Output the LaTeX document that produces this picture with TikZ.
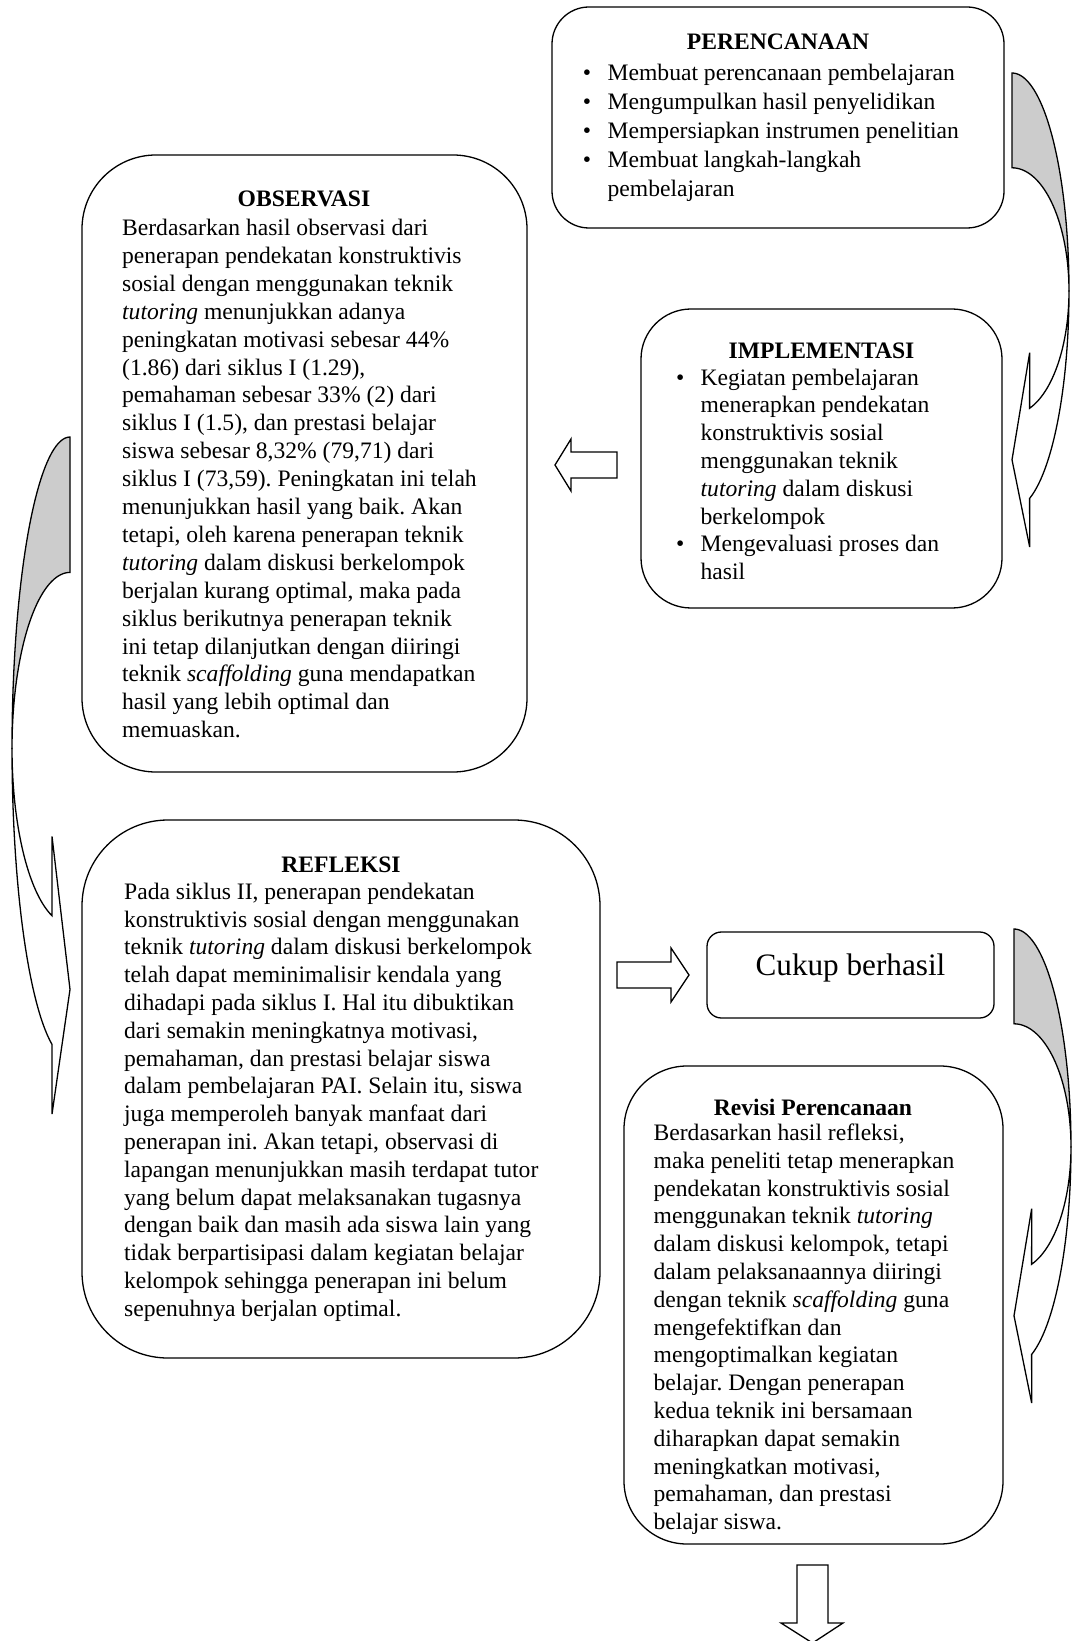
\documentclass[tikz,border=0pt]{standalone}
\usepackage{fontspec}
\setmainfont{Liberation Serif}
\usetikzlibrary{fit}
\frenchspacing

% bullet hung to the left of the item text
\newcommand\itm{\llap{\textbullet\hspace{8.2pt}}}

\tikzset{
  roundbox/.style={draw, inner sep=0pt, fill=white},
  bodytext/.style={inner sep=0pt, align=left, anchor=north west,
    font=\fontsize{11.8}{13.9}\selectfont},
  heading/.style={inner sep=0pt, font=\fontsize{11.8}{13.9}\selectfont\bfseries},
  blockarrow/.style={draw, fill=white, line join=miter},
  % curved band arrow: grey back part, white front part with a head
  pics/curvedband/.style={code={
    \filldraw[fill=gray!40] (0,0) -- (0,0.2)
      -- plot[domain=-90:0, samples=40] ({cos(\x)}, {0.46+0.26*sin(\x)})
      -- plot[domain=0:-90, samples=40] ({cos(\x)}, {0.46+0.46*sin(\x)}) -- cycle;
    \filldraw[fill=white] plot[domain=0:72, samples=30] ({cos(\x)}, {0.46+0.26*sin(\x)})
      -- (0.31,0.59) -- (0,0.816) -- (0.31,1) -- (0.309,0.8975)
      -- plot[domain=72:0, samples=30] ({cos(\x)}, {0.46+0.46*sin(\x)}) -- cycle;
  }},
}

\begin{document}
\begin{tikzpicture}[x=0.5pt, y=-0.5pt, line width=0.65pt]
\useasboundingbox (0,0) rectangle (1071,1641);
\fill[white] (0,0) rectangle (1071,1641);

% ---- boxes ----
\node[roundbox, rounded corners=18.5pt, fit={(552,7) (1004,228)}] (plan) {};
\node[roundbox, rounded corners=37pt, fit={(82,155) (527,772)}] (obs) {};
\node[roundbox, rounded corners=25pt, fit={(641,309) (1002,608)}] (impl) {};
\node[roundbox, rounded corners=43pt, fit={(82,820) (600,1358)}] (refl) {};
\node[roundbox, rounded corners=7.2pt, fit={(707,932) (994,1018)}] (ok) {};
\node[roundbox, rounded corners=31.5pt, fit={(624,1066) (1003,1544)}] (rev) {};

% ---- PERENCANAAN ----
\node[heading] (plan-title) at (778,42) {PERENCANAAN};
\node[bodytext, font=\fontsize{11.8}{14.6}\selectfont] (plan-list) at (607,63) {%
\itm Membuat perencanaan pembelajaran\\
\itm Mengumpulkan hasil penyelidikan\\
\itm Mempersiapkan instrumen penelitian\\
\itm Membuat langkah-langkah\\
pembelajaran};

% ---- OBSERVASI ----
\node[heading] (obs-title) at (304,199) {OBSERVASI};
\node[bodytext, font=\fontsize{11.8}{13.95}\selectfont] (obs-text) at (121.5,218.5) {%
Berdasarkan hasil observasi dari\\
penerapan pendekatan konstruktivis\\
sosial dengan menggunakan teknik\\
\textit{tutoring} menunjukkan adanya\\
peningkatan motivasi sebesar 44\%\\
(1.86) dari siklus I (1.29),\\
pemahaman sebesar 33\% (2) dari\\
siklus I (1.5), dan prestasi belajar\\
siswa sebesar 8,32\% (79,71) dari\\
siklus I (73,59). Peningkatan ini telah\\
menunjukkan hasil yang baik. Akan\\
tetapi, oleh karena penerapan teknik\\
\textit{tutoring} dalam diskusi berkelompok\\
berjalan kurang optimal, maka pada\\
siklus berikutnya penerapan teknik\\
ini tetap dilanjutkan dengan diiringi\\
teknik \textit{scaffolding} guna mendapatkan\\
hasil yang lebih optimal dan\\
memuaskan.};

% ---- IMPLEMENTASI ----
\node[heading] (impl-title) at (821.5,351) {IMPLEMENTASI};
\node[bodytext] (impl-list) at (700,368) {%
\itm Kegiatan pembelajaran\\
menerapkan pendekatan\\
konstruktivis sosial\\
menggunakan teknik\\
\textit{tutoring} dalam diskusi\\
berkelompok\\
\itm Mengevaluasi proses dan\\
hasil};

% ---- REFLEKSI ----
\node[heading] (refl-title) at (341,865) {REFLEKSI};
\node[bodytext] (refl-text) at (123.5,882.3) {%
Pada siklus II, penerapan pendekatan\\
konstruktivis sosial dengan menggunakan\\
teknik \textit{tutoring} dalam diskusi berkelompok\\
telah dapat meminimalisir kendala yang\\
dihadapi pada siklus I. Hal itu dibuktikan\\
dari semakin meningkatnya motivasi,\\
pemahaman, dan prestasi belajar siswa\\
dalam pembelajaran PAI. Selain itu, siswa\\
juga memperoleh banyak manfaat dari\\
penerapan ini. Akan tetapi, observasi di\\
lapangan menunjukkan masih terdapat tutor\\
yang belum dapat melaksanakan tugasnya\\
dengan baik dan masih ada siswa lain yang\\
tidak berpartisipasi dalam kegiatan belajar\\
kelompok sehingga penerapan ini belum\\
sepenuhnya berjalan optimal.};

% ---- Cukup berhasil ----
\node[inner sep=0pt, anchor=base, font=\fontsize{15.6}{18}\selectfont] (ok-text) at (850.5,975) {Cukup berhasil};

% ---- Revisi Perencanaan ----
\node[heading] (rev-title) at (813,1107) {Revisi Perencanaan};
\node[bodytext] (rev-text) at (653,1123.3) {%
Berdasarkan hasil refleksi,\\
maka peneliti tetap menerapkan\\
pendekatan konstruktivis sosial\\
menggunakan teknik \textit{tutoring}\\
dalam diskusi kelompok, tetapi\\
dalam pelaksanaannya diiringi\\
dengan teknik \textit{scaffolding} guna\\
mengefektifkan dan\\
mengoptimalkan kegiatan\\
belajar. Dengan penerapan\\
kedua teknik ini bersamaan\\
diharapkan dapat semakin\\
meningkatkan motivasi,\\
pemahaman, dan prestasi\\
belajar siswa.};

% ---- block arrows ----
\draw[blockarrow] (617,452) -- (571,452) -- (571,439) -- (555,465)
  -- (571,491) -- (571,478) -- (617,478) -- cycle;
\draw[blockarrow] (617,962) -- (671,962) -- (671,948) -- (689,975)
  -- (671,1002) -- (671,988) -- (617,988) -- cycle;
\draw[blockarrow] (797,1565) -- (828,1565) -- (828,1623) -- (843,1623)
  -- (812.5,1643) -- (781,1623) -- (797,1623) -- cycle;

% ---- curved arrows ----
\pic[xscale=57, yscale=474] at (1012,73) {curvedband};
\pic[xscale=-58, yscale=677] at (70,437) {curvedband};
\pic[xscale=57, yscale=474] at (1014,929) {curvedband};
\end{tikzpicture}
\end{document}
